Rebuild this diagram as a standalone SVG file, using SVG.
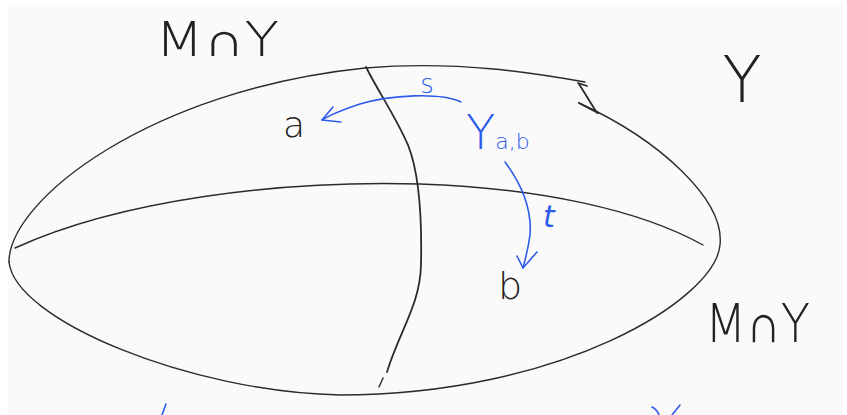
<svg xmlns="http://www.w3.org/2000/svg" width="847" height="415" viewBox="0 0 847 415">
<style>
.ink{fill:none;stroke:#2b2b2b;stroke-width:1.4;stroke-linecap:round;stroke-linejoin:round}
.thick{stroke-width:1.8}
.blue{fill:none;stroke:#2f5bea;stroke-width:1.6;stroke-linecap:round;stroke-linejoin:round}
.lbl{font-family:"DejaVu Sans","Liberation Sans",sans-serif;font-weight:200;fill:#222}
.lblb{font-family:"DejaVu Sans","Liberation Sans",sans-serif;font-weight:200;fill:#2f5bea}
</style>
<rect x="0" y="0" width="847" height="415" fill="#ffffff"/>
<rect x="8" y="4" width="835" height="411" fill="#fafafa"/>
<g id="surface">
<path class="ink" d="M9,262 C9,200 150,90 365,68 C460,60 540,74 585,82"/>
<path class="ink" d="M579,103 C660,140 725,200 720,245 C715,300 560,395 340,395 C190,392 15,320 9,262"/>
<path class="ink" d="M15,248 C120,200 280,180 420,184 C540,188 640,210 703,245"/>
<path class="ink thick" d="M578,83 L587,86 M579,84 L597,113 M579,103 L598,113"/>
</g>
<g id="fibre">
<path class="ink thick" d="M366,67 C380,95 395,115 408,145 C420,175 422,220 421,265 C420,305 400,330 387,372"/>
<path class="ink" d="M383,378 L379,387"/>
</g>
<g id="connectors">
<path class="blue" d="M461,102 C440,92 390,95 360,104 C345,109 330,115 322,120"/>
<path class="blue" d="M333,107 L322,120 L341,122"/>
<path class="blue" d="M505,162 C522,185 532,210 530,235 C528,250 525,260 523,268"/>
<path class="blue" d="M517,256 L523,268 L537,252"/>
<path class="blue" d="M166,404 L162,415 M652,407 C656,409 658,412 659,415 M672,415 L680,405"/>
</g>
<g id="label-MY-top"><text class="lbl" x="155" y="56" font-size="48" textLength="124" lengthAdjust="spacingAndGlyphs">M∩Y</text></g>
<g id="label-Y"><text class="lbl" x="742" y="102" font-size="64" text-anchor="middle">Y</text></g>
<g id="label-MY-bottom"><text class="lbl" x="705" y="342" font-size="54" textLength="105" lengthAdjust="spacingAndGlyphs">M∩Y</text></g>
<g id="node-a"><text class="lbl" x="294" y="137" font-size="36" text-anchor="middle">a</text></g>
<g id="node-b"><text class="lbl" x="510" y="299" font-size="38" text-anchor="middle">b</text></g>
<g id="node-Yab"><text class="lblb" x="466" y="149" font-size="48">Y<tspan font-size="22">a,b</tspan></text></g>
<g id="label-s"><text class="lblb" x="427" y="93" font-size="26" text-anchor="middle">s</text></g>
<g id="label-t"><text class="lblb" x="549" y="227" font-size="30" text-anchor="middle" font-style="italic">t</text></g>
</svg>
